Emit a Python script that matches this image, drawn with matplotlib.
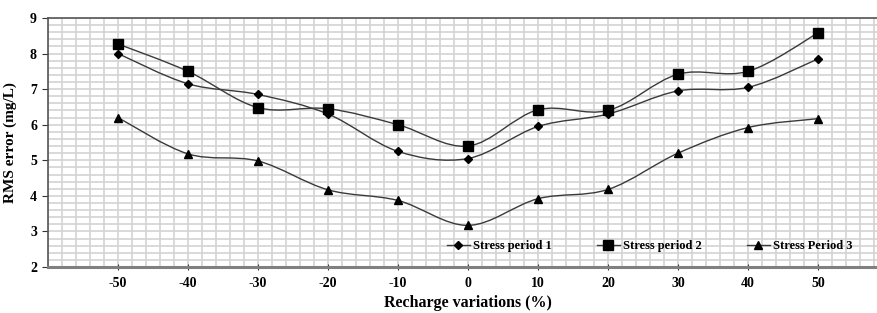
import numpy as np
import matplotlib.pyplot as plt
from matplotlib.path import Path
from matplotlib.patches import PathPatch
from matplotlib.lines import Line2D
from matplotlib.ticker import MultipleLocator

# data
recharge = [-50, -40, -30, -20, -10, 0, 10, 20, 30, 40, 50]
sp1 = [8.0, 7.15, 6.85, 6.3, 5.25, 5.05, 5.95, 6.3, 6.95, 7.05, 7.85]
sp2 = [8.27, 7.5, 6.48, 6.45, 6.0, 5.4, 6.42, 6.4, 7.42, 7.5, 8.58]
sp3 = [6.2, 5.18, 4.98, 4.17, 3.87, 3.17, 3.92, 4.18, 5.2, 5.92, 6.17]
labels = ['Stress period 1', 'Stress period 2', 'Stress Period 3']

plt.rcParams['font.family'] = 'Liberation Serif'
plt.rcParams['font.weight'] = 'bold'
plt.rcParams['axes.unicode_minus'] = False

LINE = '#3a3a3a'


def smooth_path(x, y):
    # excel-like smoothed line: bezier segments through the points
    p = np.column_stack([x, y]).astype(float)
    p = np.vstack([p[0], p, p[-1]])
    verts = [p[1]]
    codes = [Path.MOVETO]
    for i in range(1, len(p) - 2):
        c1 = p[i] + (p[i + 1] - p[i - 1]) / 6
        c2 = p[i + 1] - (p[i + 2] - p[i]) / 6
        verts += [c1, c2, p[i + 1]]
        codes += [Path.CURVE4] * 3
    return Path(verts, codes)


fig = plt.figure(figsize=(8.77, 3.13), dpi=100)
ax = fig.add_axes([48 / 877, 46 / 313, 840 / 877, 249 / 313])

handles = []
for ys, mk, ms, lab in [(sp1, 'D', 4, labels[0]),
                        (sp2, 's', 6.5, labels[1]),
                        (sp3, '^', 6, labels[2])]:
    ax.add_patch(PathPatch(smooth_path(recharge, ys), fill=False,
                           edgecolor=LINE, linewidth=1.0, zorder=3))
    ax.plot(recharge, ys, linestyle='none', marker=mk, markersize=ms,
            color='black', zorder=4)
    handles.append(Line2D([], [], color=LINE, linewidth=1.0, marker=mk,
                          markersize=ms, markerfacecolor='black',
                          markeredgecolor='black', label=lab))

ax.set_xlim(-60, 60)
ax.set_ylim(2, 9)
ax.set_xticks(recharge)
ax.set_yticks(range(2, 10))
ax.xaxis.set_minor_locator(MultipleLocator(2))
ax.yaxis.set_minor_locator(MultipleLocator(0.2))
ax.grid(True, which='both', color='#d3d3d3', linewidth=1.2, zorder=0)
ax.set_axisbelow(True)
ax.tick_params(which='minor', length=0)
ax.tick_params(axis='x', which='major', direction='inout', length=5,
               color='#333333', labelsize=10, pad=5)
ax.tick_params(axis='y', which='major', direction='out', length=4,
               color='#333333', labelsize=10, pad=4)

for s in ['top', 'left']:
    ax.spines[s].set_color('#555555')
    ax.spines[s].set_linewidth(1.2)
ax.spines['bottom'].set_color('#808080')
ax.spines['bottom'].set_linewidth(2.2)
ax.spines['right'].set_visible(False)

ax.set_ylabel('RMS error (mg/L)', fontsize=11, fontweight='bold', labelpad=9)
ax.set_xlabel('Recharge variations (%)', fontsize=11.5, fontweight='bold',
              labelpad=3)

ax.legend(handles=handles, loc='lower left', bbox_to_anchor=(0.467, 0.035),
          ncol=3, frameon=False, handlelength=1.9,
          handletextpad=0.2, columnspacing=3.6, borderpad=0,
          prop={'weight': 'bold', 'size': 9})

fig.savefig('out.png', dpi=100)
